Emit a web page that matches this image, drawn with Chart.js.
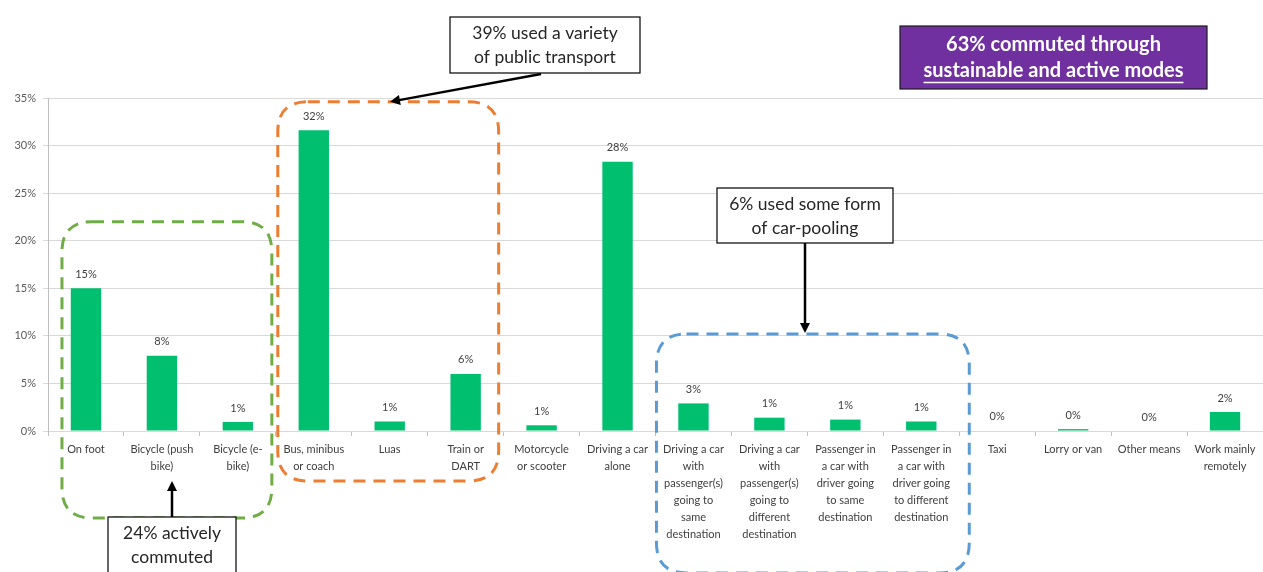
<!DOCTYPE html>
<html>
<head>
<meta charset="utf-8">
<script src="https://cdn.jsdelivr.net/npm/chart.js@4"></script>
<style>
  html, body { margin: 0; padding: 0; background: #fff; }
  #wrap { width: 1263px; height: 572px; }
</style>
</head>
<body>
<div id="wrap"><canvas id="modes" width="1263" height="572"></canvas></div>
<script>
const categories = [
  "On foot",
  ["Bicycle (push", "bike)"],
  ["Bicycle (e-", "bike)"],
  ["Bus, minibus", "or coach"],
  "Luas",
  ["Train or", "DART"],
  ["Motorcycle", "or scooter"],
  ["Driving a car", "alone"],
  ["Driving a car", "with", "passenger(s)", "going to", "same", "destination"],
  ["Driving a car", "with", "passenger(s)", "going to", "different", "destination"],
  ["Passenger in", "a car with", "driver going", "to same", "destination"],
  ["Passenger in", "a car with", "driver going", "to different", "destination"],
  "Taxi",
  "Lorry or van",
  "Other means",
  ["Work mainly", "remotely"]
];
const shares = [15.0, 7.9, 0.95, 31.6, 1.0, 6.0, 0.6, 28.3, 2.9, 1.4, 1.2, 1.0, 0.05, 0.2, 0.0, 2.0];
const yTicks = [0, 5, 10, 15, 20, 25, 30, 35];

const FONT = "Lato, 'Open Sans', sans-serif";
const barGreen = "#00bf6f";

// value labels above each bar
const barLabels = {
  id: "barLabels",
  afterDatasetsDraw(chart) {
    const ctx = chart.ctx;
    const meta = chart.getDatasetMeta(0);
    ctx.save();
    ctx.font = "11px " + FONT;
    ctx.fillStyle = "#404040";
    ctx.textAlign = "center";
    ctx.textBaseline = "middle";
    meta.data.forEach((bar, i) => {
      ctx.fillText(Math.round(shares[i]) + "%", bar.x, bar.y - 14);
    });
    ctx.restore();
  }
};

function roundedRect(ctx, x1, y1, x2, y2, r) {
  ctx.beginPath();
  ctx.moveTo(x1 + r, y1);
  ctx.lineTo(x2 - r, y1);
  ctx.quadraticCurveTo(x2, y1, x2, y1 + r);
  ctx.lineTo(x2, y2 - r);
  ctx.quadraticCurveTo(x2, y2, x2 - r, y2);
  ctx.lineTo(x1 + r, y2);
  ctx.quadraticCurveTo(x1, y2, x1, y2 - r);
  ctx.lineTo(x1, y1 + r);
  ctx.quadraticCurveTo(x1, y1, x1 + r, y1);
  ctx.closePath();
}

function arrow(ctx, x1, y1, x2, y2) {
  const a = Math.atan2(y2 - y1, x2 - x1);
  const len = 10, w = 5;
  ctx.beginPath();
  ctx.moveTo(x1, y1);
  ctx.lineTo(x2 - Math.cos(a) * len * 0.8, y2 - Math.sin(a) * len * 0.8);
  ctx.stroke();
  ctx.beginPath();
  ctx.moveTo(x2, y2);
  ctx.lineTo(x2 - Math.cos(a) * len + Math.sin(a) * w, y2 - Math.sin(a) * len - Math.cos(a) * w);
  ctx.lineTo(x2 - Math.cos(a) * len - Math.sin(a) * w, y2 - Math.sin(a) * len + Math.cos(a) * w);
  ctx.closePath();
  ctx.fill();
}

function textBox(ctx, x1, y1, x2, y2, lines) {
  ctx.fillStyle = "#fff";
  ctx.fillRect(x1, y1, x2 - x1, y2 - y1);
  ctx.strokeStyle = "#000";
  ctx.lineWidth = 1.2;
  ctx.setLineDash([]);
  ctx.strokeRect(x1, y1, x2 - x1, y2 - y1);
  ctx.fillStyle = "#262626";
  ctx.font = "17.5px " + FONT;
  ctx.textAlign = "center";
  ctx.textBaseline = "middle";
  lines.forEach((t, i) => ctx.fillText(t, (x1 + x2) / 2, y1 + 16 + i * 24));
}

// dashed groupings and callout boxes
const callouts = {
  id: "callouts",
  afterDraw(chart) {
    const ctx = chart.ctx;
    const xs = chart.scales.x, ys = chart.scales.y;
    const base = ys.getPixelForValue(0);
    ctx.save();

    ctx.lineWidth = 3;
    ctx.setLineDash([12, 8]);
    ctx.strokeStyle = "#70ad47";
    roundedRect(ctx, xs.getPixelForValue(0) - 24, ys.getPixelForValue(22), xs.getPixelForValue(2) + 34, base + 87, 30);
    ctx.stroke();
    ctx.strokeStyle = "#ed7d31";
    roundedRect(ctx, xs.getPixelForValue(3) - 36, ys.getPixelForValue(34.6), xs.getPixelForValue(5) + 33, base + 50, 30);
    ctx.stroke();
    ctx.strokeStyle = "#5b9bd5";
    roundedRect(ctx, xs.getPixelForValue(8) - 37, ys.getPixelForValue(10.2), xs.getPixelForValue(11) + 48, base + 142, 30);
    ctx.stroke();
    ctx.setLineDash([]);

    ctx.strokeStyle = "#000";
    ctx.fillStyle = "#000";
    ctx.lineWidth = 2.5;
    arrow(ctx, 541, 74, 390, ys.getPixelForValue(34.6));
    arrow(ctx, 805, 243, 805, ys.getPixelForValue(10.2) - 1);
    arrow(ctx, 172, 517, 172, base + 50);

    textBox(ctx, 450, 17, 640, 73, ["39% used a variety", "of public transport"]);
    textBox(ctx, 717, 188, 893, 243, ["6% used some form", "of car-pooling"]);
    textBox(ctx, 108, 517, 236, 590, ["24% actively", "commuted"]);

    // purple headline box
    ctx.fillStyle = "#7030a0";
    ctx.fillRect(900, 26, 307, 63);
    ctx.strokeStyle = "#1a1a1a";
    ctx.lineWidth = 1.2;
    ctx.strokeRect(900, 26, 307, 63);
    ctx.fillStyle = "#fff";
    ctx.font = "bold 20px " + FONT;
    ctx.textAlign = "center";
    ctx.textBaseline = "middle";
    ctx.fillText("63% commuted through", 1053.5, 45);
    ctx.fillText("sustainable and active modes", 1053.5, 71);
    const w = ctx.measureText("sustainable and active modes").width;
    ctx.strokeStyle = "#fff";
    ctx.lineWidth = 1.3;
    ctx.beginPath();
    ctx.moveTo(1053.5 - w / 2, 82.5);
    ctx.lineTo(1053.5 + w / 2, 82.5);
    ctx.stroke();
    ctx.restore();
  }
};

new Chart(document.getElementById("modes"), {
  type: "bar",
  data: {
    labels: categories,
    datasets: [{
      data: shares,
      backgroundColor: barGreen,
      barPercentage: 0.8,
      categoryPercentage: 0.5
    }]
  },
  options: {
    responsive: false,
    animation: false,
    layout: { padding: { top: 98, left: 0, right: 0, bottom: 0 } },
    plugins: { legend: { display: false }, tooltip: { enabled: false } },
    scales: {
      x: {
        offset: true,
        grid: { offset: true, drawOnChartArea: false, drawTicks: true, tickLength: 5, color: "#bfbfbf" },
        border: { color: "#d9d9d9" },
        ticks: {
          autoSkip: false, maxRotation: 0, minRotation: 0, padding: 5,
          color: "#404040", font: { family: FONT, size: 11, lineHeight: 1.55 }
        },
        afterFit(scale) { scale.height = 141; }
      },
      y: {
        min: 0, max: 35,
        afterBuildTicks(scale) { scale.ticks = yTicks.map(v => ({ value: v })); },
        grid: { color: "#d9d9d9", tickLength: 5 },
        border: { color: "#bfbfbf" },
        ticks: {
          padding: 7, color: "#595959",
          font: { family: FONT, size: 11 },
          callback: v => v + "%"
        },
        afterFit(scale) { scale.width = 48; }
      }
    }
  },
  plugins: [barLabels, callouts]
});
</script>
</body>
</html>
